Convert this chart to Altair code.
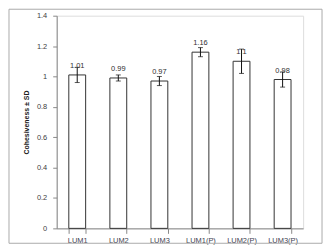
import altair as alt
import pandas as pd

categories = ["LUM1", "LUM2", "LUM3", "LUM1(P)", "LUM2(P)", "LUM3(P)"]
values = [1.01, 0.99, 0.97, 1.16, 1.10, 0.98]
sds = [0.05, 0.02, 0.03, 0.03, 0.08, 0.05]
labels = ["1.01", "0.99", "0.97", "1.16", "1.1", "0.98"]
yticks = [0, 0.2, 0.4, 0.6, 0.8, 1, 1.2, 1.4]

df = pd.DataFrame({
    "cat": categories,
    "val": values,
    "lo": [v - s for v, s in zip(values, sds)],
    "hi": [v + s for v, s in zip(values, sds)],
    "lab": labels,
})

W, H = 248, 214
FONT = "Liberation Sans"

xaxis = alt.Axis(labelAngle=0, tickBand="extent", tickSize=5, labelPadding=3,
                 labelFontSize=7.5, labelColor="#404050", labelFont=FONT,
                 labelOverlap=False, domainColor="#888888", tickColor="#888888")
yaxis = alt.Axis(values=yticks, grid=False, format="~g", labelOverlap=False,
                 tickSize=4, labelPadding=6, labelFontSize=7.5, labelColor="#404040",
                 labelFont=FONT, domainColor="#888888", tickColor="#888888",
                 titleFontSize=7, titleFontWeight="bold", titleFont=FONT,
                 titleColor="#202020", titlePadding=7)
xscale = alt.Scale(paddingInner=0.59, paddingOuter=0.295)
yscale = alt.Scale(domain=[0, 1.4], nice=False, zero=True)
YT = "Cohesiveness ± SD"

def X():
    return alt.X("cat:N", sort=categories, title=None, scale=xscale, axis=xaxis)

def Y(field):
    return alt.Y(field, title=YT, scale=yscale, axis=yaxis)

base = alt.Chart(df)
bars = base.mark_bar(fill="white", stroke="#333333", strokeWidth=1).encode(x=X(), y=Y("val:Q"))
rules = base.mark_rule(color="#111111", strokeWidth=1).encode(x=X(), y=Y("lo:Q"), y2="hi:Q")
caps_lo = base.mark_tick(color="#111111", size=5, thickness=1, orient="horizontal").encode(
    x=X(), y=Y("lo:Q"))
caps_hi = base.mark_tick(color="#111111", size=5, thickness=1, orient="horizontal").encode(
    x=X(), y=Y("hi:Q"))
text = base.mark_text(dy=-9, fontSize=7.5, color="#303030", font=FONT).encode(
    x=X(), y=Y("val:Q"), text="lab:N")

border = alt.Chart(pd.DataFrame({"a": [0]})).mark_rect(
    fill=None, stroke="#aaaaaa", strokeWidth=1
).encode(x=alt.value(-48), x2=alt.value(267), y=alt.value(-6.5), y2=alt.value(229))

chart = alt.layer(bars, rules, caps_lo, caps_hi, text, border).properties(
    width=W, height=H,
    autosize=alt.AutoSizeParams(type="none"),
    padding={"left": 49, "top": 7, "right": 22, "bottom": 18},
).configure_view(stroke=None).configure(background="white")

chart.save("out.html", embed_options={"renderer": "svg", "actions": False})
